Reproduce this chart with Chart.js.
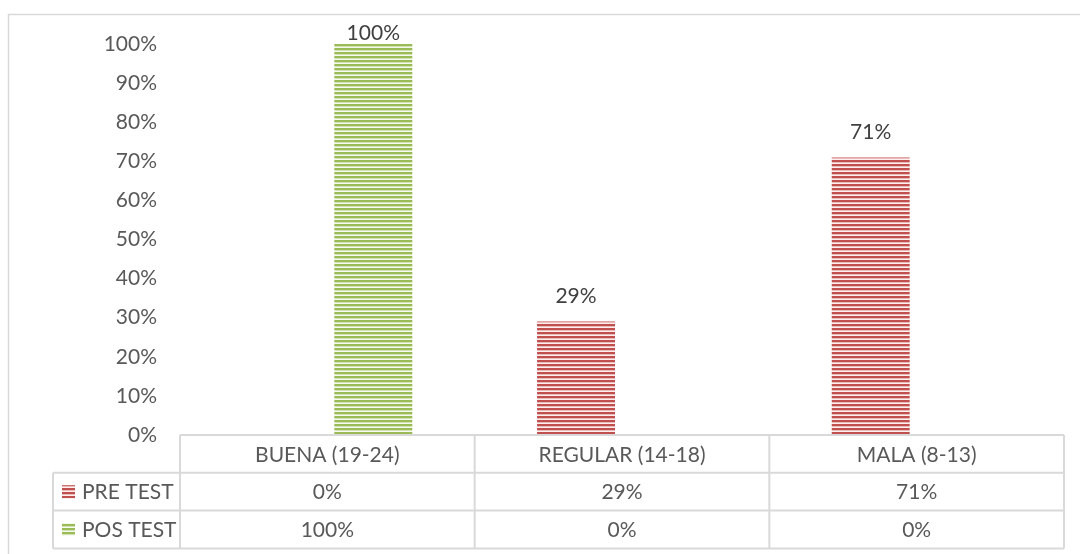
<!DOCTYPE html>
<html>
<head>
<meta charset="utf-8">
<title>PRE TEST / POS TEST</title>
<script src="https://cdn.jsdelivr.net/npm/chart.js"></script>
<style>
  html, body { margin: 0; padding: 0; background: #ffffff; }
  #wrap { width: 1080px; height: 554px; position: relative; }
</style>
</head>
<body>
<div id="wrap"><canvas id="chart" width="1080" height="554"></canvas></div>
<script>
// data
const categories = ['BUENA (19-24)', 'REGULAR (14-18)', 'MALA (8-13)'];
const seriesNames = ['PRE TEST', 'POS TEST'];
const preTest = [0, 29, 71];
const posTest = [100, 0, 0];

const textColor = '#595959';
const lineColor = '#d9d9d9';
const fontFamily = 'Lato, "Open Sans", sans-serif';

// horizontal stripe fill like the Excel pattern
function stripes(dark, mid, light) {
    const c = document.createElement('canvas');
    c.width = 4; c.height = 4;
    const g = c.getContext('2d');
    g.fillStyle = dark; g.fillRect(0, 0, 4, 4);
    g.fillStyle = mid; g.fillRect(0, 2, 4, 1);
    g.fillStyle = light; g.fillRect(0, 3, 4, 1);
    return g.createPattern(c, 'repeat');
}
const redFill = stripes('#c0504d', '#eab9b8', '#fbefef');
const greenFill = stripes('#9bbb59', '#d3e4b4', '#f5f9ee');
const fills = [redFill, greenFill];

// value labels above the bars (zeros are not labelled)
const barLabels = {
    id: 'barLabels',
    afterDatasetsDraw(chart) {
        const ctx = chart.ctx;
        ctx.save();
        ctx.font = '21px ' + fontFamily;
        ctx.fillStyle = '#404040';
        ctx.textAlign = 'center';
        ctx.textBaseline = 'middle';
        chart.data.datasets.forEach((ds, i) => {
            chart.getDatasetMeta(i).data.forEach((bar, j) => {
                if (!ds.data[j]) return;
                const y = Math.max(bar.y - 25, chart.chartArea.top - 11);
                ctx.fillText(ds.data[j] + '%', bar.x, y);
            });
        });
        ctx.restore();
    }
};

// data table under the plot area
const dataTable = {
    id: 'dataTable',
    afterDraw(chart) {
        const ctx = chart.ctx;
        const area = chart.chartArea;
        const xs = chart.scales.x;
        const top = area.bottom;
        const rowH = 37.8;
        const legendLeft = 53;
        const colW = (area.right - area.left) / categories.length;
        const bounds = categories.map((c, i) => area.left + i * colW).concat(area.right);

        ctx.save();
        // frame of the whole chart
        ctx.strokeStyle = lineColor;
        ctx.lineWidth = 1.5;
        ctx.beginPath();
        ctx.moveTo(8.5, chart.height);
        ctx.lineTo(8.5, 14.5);
        ctx.lineTo(chart.width, 14.5);
        ctx.stroke();

        ctx.lineWidth = 2;
        ctx.beginPath();
        ctx.moveTo(area.left, top); ctx.lineTo(area.right, top);
        for (let r = 1; r <= 3; r++) {
            ctx.moveTo(legendLeft, top + r * rowH); ctx.lineTo(area.right, top + r * rowH);
        }
        ctx.moveTo(legendLeft, top + rowH); ctx.lineTo(legendLeft, top + 3 * rowH);
        bounds.forEach(x => { ctx.moveTo(x, top); ctx.lineTo(x, top + 3 * rowH); });
        ctx.stroke();

        ctx.font = '21px ' + fontFamily;
        ctx.textBaseline = 'middle';
        const rows = [preTest, posTest];
        rows.forEach((vals, r) => {
            const cy = top + (r + 1.5) * rowH;
            ctx.fillStyle = fills[r];
            ctx.fillRect(62, cy - 6.5, 13, 13);
            ctx.fillStyle = textColor;
            ctx.textAlign = 'left';
            ctx.fillText(seriesNames[r], 82, cy + 1);
            ctx.textAlign = 'center';
            vals.forEach((v, i) => ctx.fillText(v + '%', xs.getPixelForValue(i), cy + 1));
        });
        ctx.restore();
    }
};

new Chart(document.getElementById('chart'), {
    type: 'bar',
    data: {
        labels: categories,
        datasets: [
            { label: seriesNames[0], data: preTest, backgroundColor: redFill, borderWidth: 0 },
            { label: seriesNames[1], data: posTest, backgroundColor: greenFill, borderWidth: 0 }
        ]
    },
    options: {
        responsive: false,
        devicePixelRatio: 1,
        animation: false,
        categoryPercentage: 0.624,
        barPercentage: 0.848,
        layout: { padding: { top: 44, right: 16, bottom: 0, left: 0 } },
        plugins: {
            legend: { display: false },
            tooltip: { enabled: false }
        },
        scales: {
            x: {
                grid: { display: false, drawTicks: false },
                border: { display: false },
                ticks: { color: textColor, font: { family: fontFamily, size: 21 }, padding: 8, maxRotation: 0 },
                afterFit(scale) { scale.height = 119; }
            },
            y: {
                min: 0,
                max: 100,
                grid: { display: false, drawTicks: false },
                border: { display: false },
                ticks: {
                    stepSize: 10,
                    color: textColor,
                    font: { family: fontFamily, size: 21 },
                    padding: 23,
                    callback: v => v + '%'
                },
                afterFit(scale) { scale.width = 180; }
            }
        }
    },
    plugins: [barLabels, dataTable]
});
</script>
</body>
</html>
